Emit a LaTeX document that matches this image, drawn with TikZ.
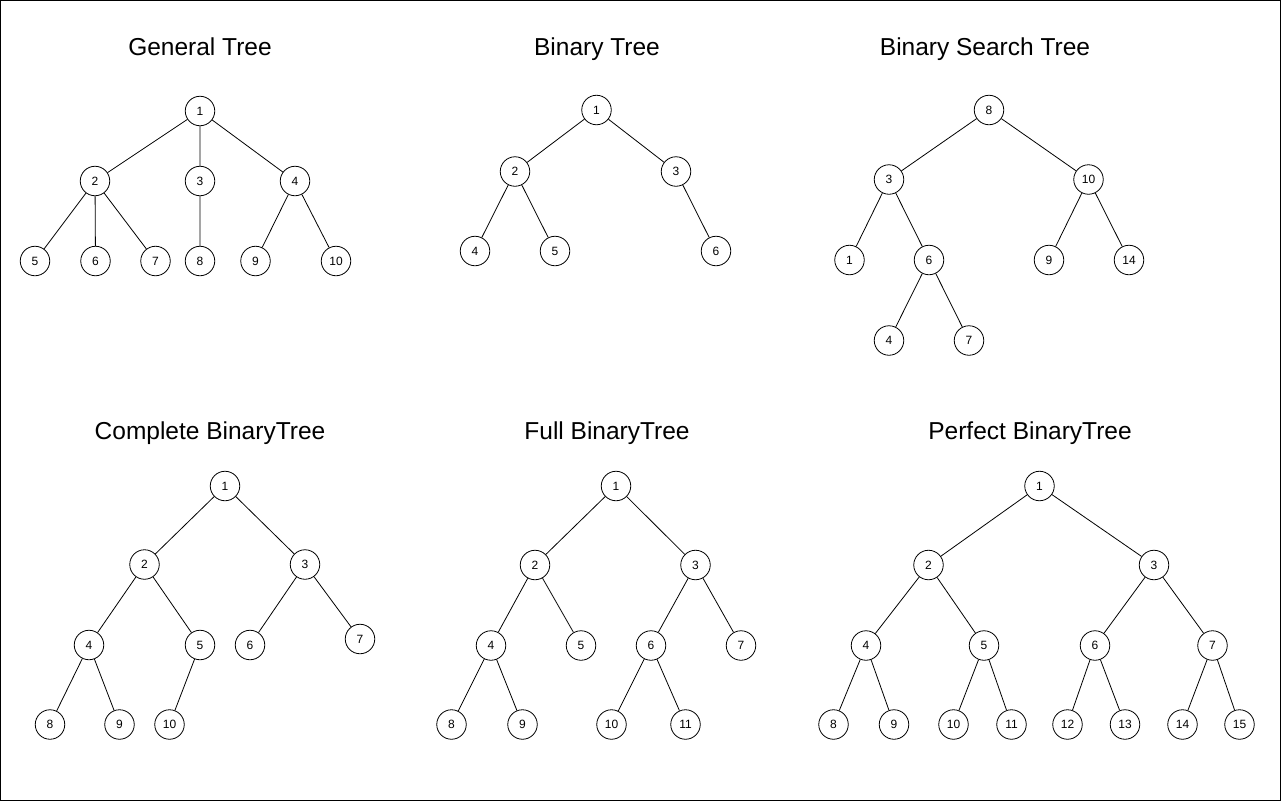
\documentclass[tikz,border=0pt]{standalone}
\usepackage{fontspec}
\setmainfont{Liberation Sans}
\begin{document}
\begin{tikzpicture}[x=1pt,y=-1pt,
  tn/.style={circle,draw,minimum size=29.5pt,inner sep=0pt,line width=0.8pt,font=\fontsize{12}{14}\selectfont},
  ttl/.style={anchor=base,font=\fontsize{24.5}{28}\selectfont},
  edge/.style={line width=0.8pt}]
\useasboundingbox (0,0) rectangle (1281,801);
\draw[line width=1pt] (0.5,0.5) rectangle (1280.5,800.5);
% titles
\node[ttl] (tg) at (200,55) {General Tree};
\node[ttl] (tb) at (597,55) {Binary Tree};
\node[ttl] (ts) at (985,55) {Binary Search Tree};
\node[ttl] (tc) at (210,439) {Complete BinaryTree};
\node[ttl] (tf) at (607,439) {Full BinaryTree};
\node[ttl] (tp) at (1030,439) {Perfect BinaryTree};
% General tree
\node[tn] (g1) at (200,111) {1};
\node[tn] (g2) at (95,181) {2};
\node[tn] (g3) at (200,181) {3};
\node[tn] (g4) at (295,181) {4};
\node[tn] (g5) at (35,261) {5};
\node[tn] (g6) at (95.5,261) {6};
\node[tn] (g7) at (155.5,261) {7};
\node[tn] (g8) at (200,261) {8};
\node[tn] (g9) at (255.5,261) {9};
\node[tn] (g10) at (336,261) {10};
\draw[edge] (g1)--(g2) (g1)--(g3) (g1)--(g4) (g2)--(g5) (g2)--(g6) (g2)--(g7) (g3)--(g8) (g4)--(g9) (g4)--(g10);
% Binary tree
\node[tn] (b1) at (596.5,110) {1};
\node[tn] (b2) at (515,171.5) {2};
\node[tn] (b3) at (676,171.5) {3};
\node[tn] (b4) at (475,251) {4};
\node[tn] (b5) at (555,251) {5};
\node[tn] (b6) at (716,251) {6};
\draw[edge] (b1)--(b2) (b1)--(b3) (b2)--(b4) (b2)--(b5) (b3)--(b6);
% BST
\node[tn] (s8) at (989,110) {8};
\node[tn] (s3) at (889,179.5) {3};
\node[tn] (s10) at (1088.5,179.5) {10};
\node[tn] (s1) at (849.5,260) {1};
\node[tn] (s6) at (929,260) {6};
\node[tn] (s9) at (1049,260) {9};
\node[tn] (s14) at (1129,260) {14};
\node[tn] (s4) at (889,340.5) {4};
\node[tn] (s7) at (969,340.5) {7};
\draw[edge] (s8)--(s3) (s8)--(s10) (s3)--(s1) (s3)--(s6) (s10)--(s9) (s10)--(s14) (s6)--(s4) (s6)--(s7);
% Complete
\node[tn] (c1) at (225,486) {1};
\node[tn] (c2) at (144.5,564.5) {2};
\node[tn] (c3) at (305,564.5) {3};
\node[tn] (c4) at (89,645) {4};
\node[tn] (c5) at (200,645) {5};
\node[tn] (c6) at (250,645) {6};
\node[tn] (c7) at (360,639) {7};
\node[tn] (c8) at (50,724.5) {8};
\node[tn] (c9) at (119.5,724.5) {9};
\node[tn] (c10) at (169.5,724.5) {10};
\draw[edge] (c1)--(c2) (c1)--(c3) (c2)--(c4) (c2)--(c5) (c3)--(c6) (c3)--(c7) (c4)--(c8) (c4)--(c9) (c5)--(c10);
% Full
\node[tn] (f1) at (616,486) {1};
\node[tn] (f2) at (535,565) {2};
\node[tn] (f3) at (695.5,565) {3};
\node[tn] (f4) at (491,645.5) {4};
\node[tn] (f5) at (581,645.5) {5};
\node[tn] (f6) at (651,645.5) {6};
\node[tn] (f7) at (741,645.5) {7};
\node[tn] (f8) at (451.5,724.5) {8};
\node[tn] (f9) at (522.5,724.5) {9};
\node[tn] (f10) at (611.5,724.5) {10};
\node[tn] (f11) at (685.5,724.5) {11};
\draw[edge] (f1)--(f2) (f1)--(f3) (f2)--(f4) (f2)--(f5) (f3)--(f6) (f3)--(f7) (f4)--(f8) (f4)--(f9) (f6)--(f10) (f6)--(f11);
% Perfect
\node[tn] (p1) at (1039.5,486) {1};
\node[tn] (p2) at (928.5,565) {2};
\node[tn] (p3) at (1154,565) {3};
\node[tn] (p4) at (866,645.5) {4};
\node[tn] (p5) at (984,645.5) {5};
\node[tn] (p6) at (1095,645.5) {6};
\node[tn] (p7) at (1212.5,645.5) {7};
\node[tn] (p8) at (833.5,724.5) {8};
\node[tn] (p9) at (894,724.5) {9};
\node[tn] (p10) at (953.5,724.5) {10};
\node[tn] (p11) at (1011.5,724.5) {11};
\node[tn] (p12) at (1067.5,724.5) {12};
\node[tn] (p13) at (1125,724.5) {13};
\node[tn] (p14) at (1182.5,724.5) {14};
\node[tn] (p15) at (1239.5,724.5) {15};
\draw[edge] (p1)--(p2) (p1)--(p3) (p2)--(p4) (p2)--(p5) (p3)--(p6) (p3)--(p7)
  (p4)--(p8) (p4)--(p9) (p5)--(p10) (p5)--(p11) (p6)--(p12) (p6)--(p13) (p7)--(p14) (p7)--(p15);
\end{tikzpicture}
\end{document}
